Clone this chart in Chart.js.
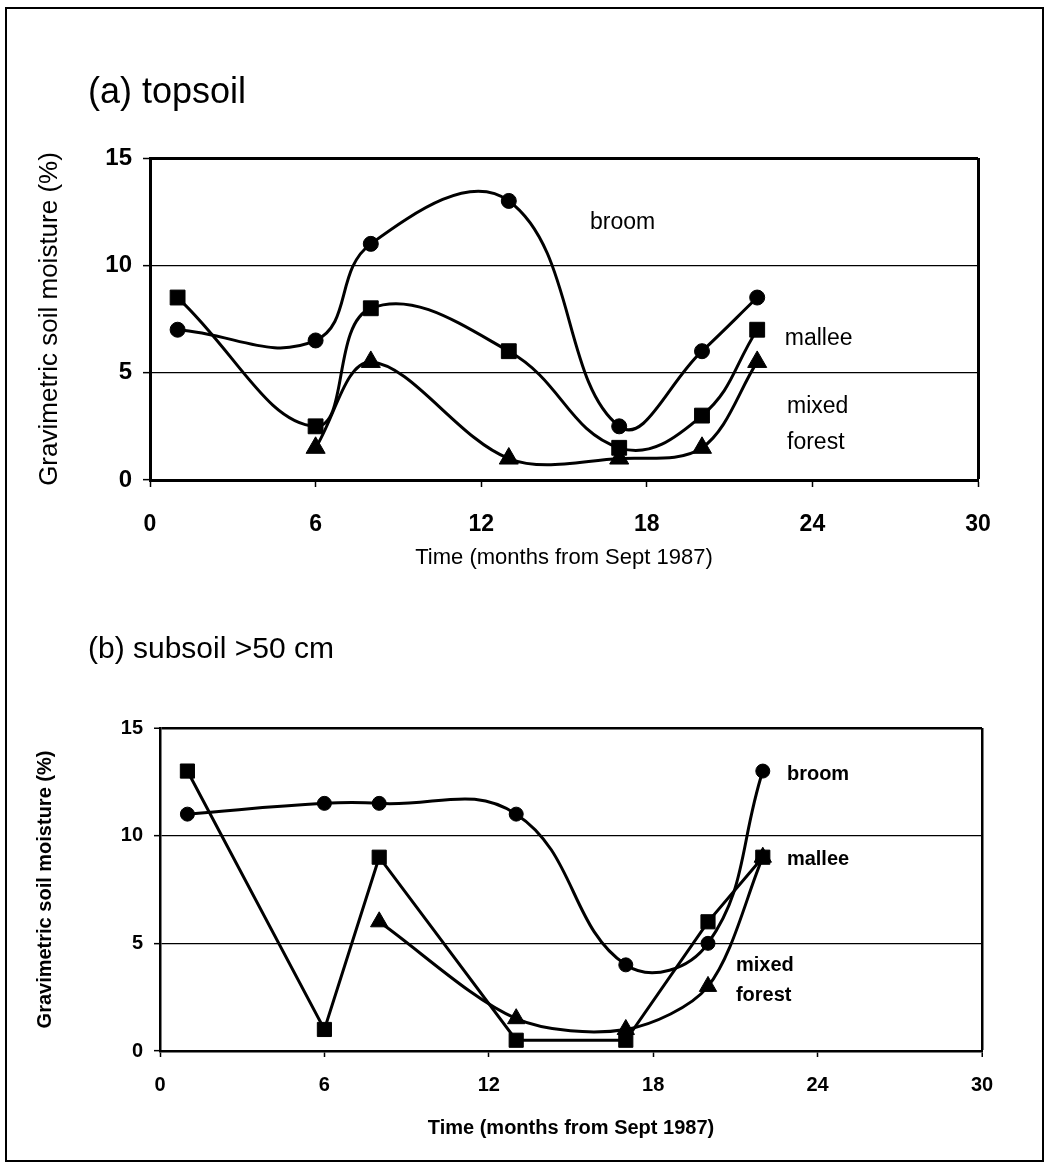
<!DOCTYPE html>
<html>
<head>
<meta charset="utf-8">
<script src="https://cdn.jsdelivr.net/npm/chart.js@4.4.1/dist/chart.umd.min.js"></script>
<style>
html,body{margin:0;padding:0;background:#fff;}
#page{position:relative;width:1048px;height:1165px;overflow:hidden;background:#fff;}
#frame{position:absolute;left:5px;top:7px;width:1039px;height:1155px;border:2px solid #000;box-sizing:border-box;}
.wrap{position:absolute;left:0;}
</style>
</head>
<body>
<div id="page">
  <div id="frame"></div>
  <div class="wrap" style="top:0;width:1048px;height:600px;"><canvas id="chartA" width="1048" height="600"></canvas></div>
  <div class="wrap" style="top:600px;width:1048px;height:565px;"><canvas id="chartB" width="1048" height="565"></canvas></div>
</div>
<script>
// ---------- data ----------
const months = [1, 6, 8, 13, 17, 20, 22];

// (a) topsoil
const topBroom  = [7, 6.5, 11, 13, 2.5, 6, 8.5];
const topMallee = [8.5, 2.5, 8, 6, 1.5, 3, 7];
const topMixed  = [null, 1.5, 5.5, 1, 1, 1.5, 5.5];

// (b) subsoil >50 cm
const subBroom  = [11, 11.5, 11.5, 11, 4, 5, 13];
const subMallee = [13, 1, 9, 0.5, 0.5, 6, 9];
const subMixed  = [null, null, 6, 1.5, 1, 3, 9];

const xTickValues = [0, 6, 12, 18, 24, 30];
const yTickValues = [0, 5, 10, 15];

const seriesNames = ['broom', 'mallee', 'mixed forest'];
const panelTitles = ['(a) topsoil', '(b) subsoil >50 cm'];
const xAxisTitle = 'Time (months from Sept 1987)';
const yAxisTitle = 'Gravimetric soil moisture (%)';

// ---------- helpers ----------
Chart.defaults.font.family = "'Liberation Sans', Arial, Helvetica, sans-serif";
Chart.defaults.color = '#000';

function pts(xs, ys) {
  return xs.map((x, i) => ({ x: x, y: ys[i] })).filter(p => p.y !== null);
}

const textPlugin = {
  id: 'textPlugin',
  afterDatasetsDraw(chart, args, opts) {
    const ctx = chart.ctx;
    const xs = chart.scales.x, ys = chart.scales.y;
    ctx.save();
    ctx.fillStyle = '#000';
    ctx.textAlign = 'left';
    ctx.textBaseline = 'middle';
    ctx.font = opts.labelFont;
    opts.labels.forEach(l => {
      ctx.fillText(l.text, xs.getPixelForValue(l.x), ys.getPixelForValue(l.y));
    });
    ctx.font = opts.titleFont;
    ctx.fillText(opts.title, opts.titleX, opts.titleY);
    ctx.restore();
  }
};

function makeDataset(label, ys, style, radius, tension) {
  return {
    label: label,
    data: pts(months, ys),
    borderColor: '#000',
    backgroundColor: '#000',
    borderWidth: 3,
    pointStyle: style,
    pointRadius: radius,
    pointBackgroundColor: '#000',
    pointBorderColor: '#000',
    pointBorderWidth: 1,
    tension: tension,
    fill: false
  };
}

function makeOptions(cfg) {
  return {
    responsive: false,
    animation: false,
    events: [],
    layout: { padding: cfg.padding },
    plugins: {
      legend: { display: false },
      tooltip: { enabled: false },
      textPlugin: cfg.text
    },
    scales: {
      x: {
        type: 'linear',
        min: 0, max: 30,
        afterBuildTicks: s => { s.ticks = xTickValues.map(v => ({ value: v })); },
        afterFit: s => { s.height = cfg.xHeight; },
        ticks: { font: cfg.xTickFont, padding: cfg.xTickPad, color: '#000', maxRotation: 0, autoSkip: false },
        grid: {
          color: c => (c.tick && c.tick.value === 30) ? '#000' : 'rgba(0,0,0,0)',
          lineWidth: c => (c.tick && c.tick.value === 30) ? cfg.frameW : 1,
          tickColor: '#000',
          tickWidth: 1.5,
          tickLength: cfg.tickLen
        },
        border: { display: true, color: '#000', width: cfg.frameW },
        title: { display: true, text: xAxisTitle, color: '#000', font: cfg.xTitleFont, padding: { top: 0, bottom: cfg.xTitlePad } }
      },
      y: {
        min: 0, max: 15,
        afterBuildTicks: s => { s.ticks = yTickValues.map(v => ({ value: v })); },
        afterFit: s => { s.width = cfg.yWidth; },
        ticks: { font: cfg.yTickFont, padding: cfg.yTickPad, color: '#000' },
        grid: {
          color: '#000',
          lineWidth: c => (c.tick && c.tick.value === 15) ? cfg.frameW : 1.3,
          tickColor: '#000',
          tickWidth: 1.5,
          tickLength: cfg.tickLen
        },
        border: { display: true, color: '#000', width: cfg.frameW },
        title: { display: true, text: yAxisTitle, color: '#000', font: cfg.yTitleFont, padding: { top: cfg.yTitlePad, bottom: 0 } }
      }
    }
  };
}

// ---------- chart (a) ----------
new Chart(document.getElementById('chartA'), {
  type: 'line',
  plugins: [textPlugin],
  data: {
    datasets: [
      makeDataset(seriesNames[0], topBroom, 'circle', 7.5, 0.42),
      makeDataset(seriesNames[1], topMallee, 'rect', 10.5, 0.42),
      makeDataset(seriesNames[2], topMixed, 'triangle', 11, 0.34)
    ]
  },
  options: makeOptions({
    padding: { top: 158, left: 0, right: 70, bottom: 10 },
    xHeight: 110, yWidth: 150, tickLen: 7, frameW: 3,
    xTickFont: { size: 23, weight: 'bold' }, xTickPad: 24,
    yTickFont: { size: 24, weight: 'bold' }, yTickPad: 11,
    xTitleFont: { size: 22 }, xTitlePad: 19,
    yTitleFont: { size: 26 }, yTitlePad: 34,
    text: {
      labelFont: "23px 'Liberation Sans', Arial, sans-serif",
      labels: [
        { text: 'broom', x: 15.94, y: 12.0 },
        { text: 'mallee', x: 23.0, y: 6.6 },
        { text: 'mixed', x: 23.08, y: 3.4 },
        { text: 'forest', x: 23.08, y: 1.72 }
      ],
      titleFont: "36px 'Liberation Sans', Arial, sans-serif",
      title: panelTitles[0], titleX: 88, titleY: 93
    }
  })
});

// ---------- chart (b) ----------
new Chart(document.getElementById('chartB'), {
  type: 'line',
  plugins: [textPlugin],
  data: {
    datasets: [
      makeDataset(seriesNames[0], subBroom, 'circle', 7, 0.42),
      makeDataset(seriesNames[1], subMallee, 'rect', 10, 0),
      makeDataset(seriesNames[2], subMixed, 'triangle', 10, 0.3)
    ]
  },
  options: makeOptions({
    padding: { top: 128, left: 0, right: 66, bottom: 14 },
    xHeight: 100, yWidth: 160, tickLen: 6, frameW: 2.5,
    xTickFont: { size: 20, weight: 'bold' }, xTickPad: 16,
    yTickFont: { size: 20, weight: 'bold' }, yTickPad: 11,
    xTitleFont: { size: 20, weight: 'bold' }, xTitlePad: 11,
    yTitleFont: { size: 20, weight: 'bold' }, yTitlePad: 33,
    text: {
      labelFont: "bold 20px 'Liberation Sans', Arial, sans-serif",
      labels: [
        { text: 'broom', x: 22.88, y: 12.84 },
        { text: 'mallee', x: 22.88, y: 8.88 },
        { text: 'mixed', x: 21.02, y: 3.95 },
        { text: 'forest', x: 21.02, y: 2.6 }
      ],
      titleFont: "30px 'Liberation Sans', Arial, sans-serif",
      title: panelTitles[1], titleX: 88, titleY: 50
    }
  })
});
</script>
</body>
</html>
